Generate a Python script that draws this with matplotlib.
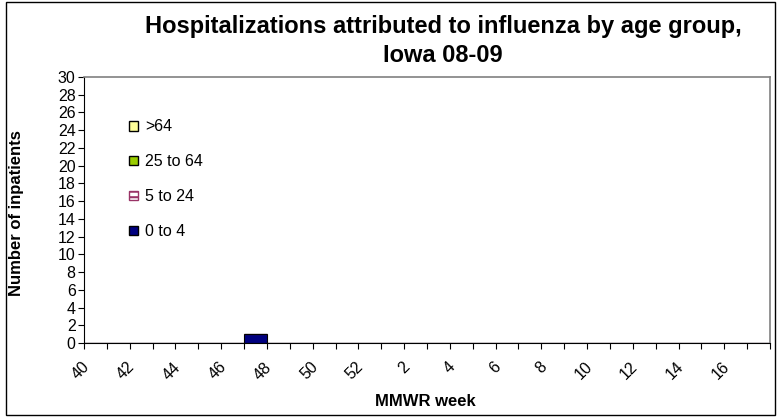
import matplotlib
matplotlib.use("Agg")
import matplotlib.pyplot as plt
from matplotlib.patches import Rectangle
from matplotlib.transforms import ScaledTranslation
import numpy as np

plt.rcParams["font.family"] = ["Liberation Sans", "DejaVu Sans"]
plt.rcParams["hatch.linewidth"] = 1.5

# MMWR weeks for the 2008-09 season (40..52, then 1..17)
weeks = list(range(40, 53)) + list(range(1, 18))
tick_weeks = [40, 42, 44, 46, 48, 50, 52, 2, 4, 6, 8, 10, 12, 14, 16]

# inpatients per age group, per week
age_0_4 = [0] * 7 + [1] + [0] * 22
age_5_24 = [0] * 30
age_25_64 = [0] * 30
age_65_up = [0] * 30

series = [
    ("0 to 4", age_0_4, "#000080", None),
    ("5 to 24", age_5_24, "#FFFFFF", "--"),
    ("25 to 64", age_25_64, "#99CC00", None),
    (">64", age_65_up, "#FFFF99", None),
]

fig = plt.figure(figsize=(7.77, 4.17), dpi=100)
ax = fig.add_axes([84 / 777, 1 - 343 / 417, (770 - 84) / 777, (343 - 77) / 417])

x = np.arange(len(weeks))
bottom = np.zeros(len(weeks))
handles = []
for label, vals, color, hatch in series:
    vals = np.array(vals, dtype=float)
    bars = ax.bar(x, vals, width=1.0, bottom=bottom, color=color,
                  edgecolor="black", linewidth=0.8, hatch=hatch, label=label)
    if hatch:
        for b in bars:
            b.set_edgecolor("#CC6699")
    bottom += vals
    h = Rectangle((0, 0), 1, 1, facecolor=color, edgecolor="black",
                  linewidth=1.0)
    if hatch:
        h = Rectangle((0, 0), 1, 1, facecolor="white", edgecolor="#993366",
                      hatch="---", linewidth=1.0)
    handles.append((h, label))

ax.set_xlim(-0.5, len(weeks) - 0.5)
ax.set_ylim(0, 30)
ax.set_yticks(range(0, 31, 2))
ax.tick_params(axis="y", labelsize=11.5, length=4, width=0.8, pad=2)

centers = [weeks.index(w) for w in tick_weeks]
ax.set_xticks(centers)
ax.set_xticklabels([str(w) for w in tick_weeks], rotation=45, ha="right",
                   va="bottom", rotation_mode="anchor", fontsize=11.5)
ax.tick_params(axis="x", length=0, pad=19.4)
shift = ScaledTranslation(-3.5 / 100, 0, fig.dpi_scale_trans)
for lab in ax.get_xticklabels():
    lab.set_transform(lab.get_transform() + shift)
ax.set_xticks(np.arange(-0.5, len(weeks)), minor=True)
ax.tick_params(axis="x", which="minor", length=4, width=0.8)

for s in ("top", "right"):
    ax.spines[s].set_color("#808080")
    ax.spines[s].set_linewidth(1.2)
for s in ("left", "bottom"):
    ax.spines[s].set_linewidth(0.8)

ax.set_xlabel("MMWR week", fontsize=12, fontweight="bold")
ax.xaxis.set_label_coords(0.497, -0.19)
ax.set_ylabel("Number of inpatients", fontsize=12, fontweight="bold")
ax.yaxis.set_label_coords(-0.087, 0.489)

hs = [h for h, _ in handles][::-1]
ls = [l for _, l in handles][::-1]
ax.legend(hs, ls, loc="upper left", bbox_to_anchor=(0.057, 0.865),
          frameon=False, fontsize=11.5, handlelength=0.56, handleheight=0.56,
          handletextpad=0.4, labelspacing=1.25, borderaxespad=0)

fig.text(0.570, 0.937, "Hospitalizations attributed to influenza by age group,",
         ha="center", va="center", fontsize=17, fontweight="bold")
fig.text(0.570, 0.868, "Iowa 08-09", ha="center", va="center",
         fontsize=17, fontweight="bold")

fig.patches.append(Rectangle((6 / 777, 2 / 417), 769 / 777, 413 / 417,
                             transform=fig.transFigure, fill=False,
                             edgecolor="black", linewidth=1.0))

fig.savefig("out.png", dpi=100)
